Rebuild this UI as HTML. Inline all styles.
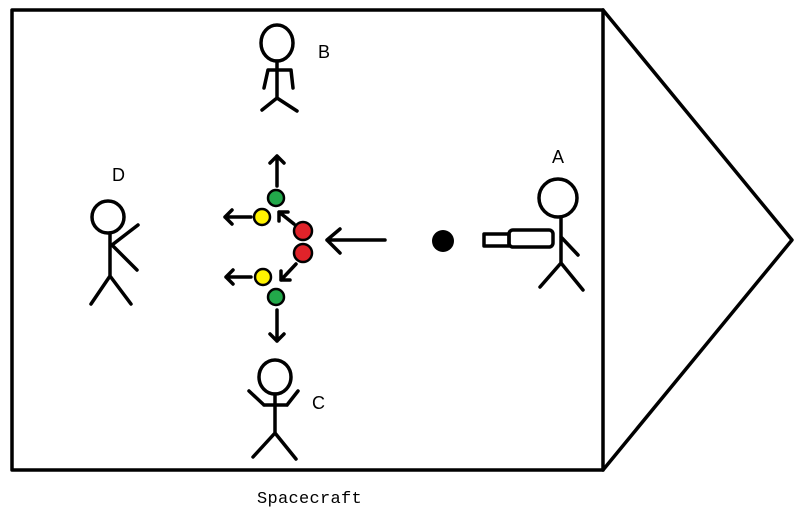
<!DOCTYPE html>
<html><head><style>body{margin:0;background:#fff}svg{display:block}</style></head><body>
<svg width="800" height="520" viewBox="0 0 800 520" xmlns="http://www.w3.org/2000/svg">
<g fill="none" stroke="#000" stroke-width="3.5" stroke-linecap="round" stroke-linejoin="round">
<rect x="12" y="10" width="591" height="460"/>
<polyline points="603,10 792,240 603,470"/>
<!-- B -->
<ellipse cx="277" cy="43" rx="16" ry="18"/>
<path d="M277 61V98M268 70H291M268 70L264 88M291 70L293 88M277 98L262 110M277 98L297 111"/>
<!-- C -->
<ellipse cx="275" cy="377" rx="16" ry="17"/>
<path d="M275 394V433M264 405H287M264 405L249 391M287 405L298 391M275 433L253 457M275 433L296 459"/>
<!-- D -->
<ellipse cx="108" cy="217" rx="16" ry="16"/>
<path d="M110 233V276M112 245L138 225M112 245L137 270M110 276L91 304M110 276L131 304"/>
<!-- A -->
<ellipse cx="558" cy="198" rx="19" ry="19"/>
<path d="M561 217V263M561 237L578 255M561 263L540 287M561 263L583 290"/>
<rect x="509" y="230" width="44" height="17" rx="4"/>
<rect x="484" y="234" width="25" height="12"/>
<!-- arrows -->
<path d="M385 240H327M340 229L327 240L340 253"/>
<path d="M277 186V156M270 163L277 156L284 163"/>
<path d="M251 217H225M232 210L225 217L232 224"/>
<path d="M294 224L279 212M279 221L279 212L288 212"/>
<path d="M251 277H226M233 270L226 277L233 284"/>
<path d="M296 264L281 280M281 271L281 280L290 280"/>
<path d="M277 310V341M270 334L277 341L284 334"/>
</g>
<circle cx="443" cy="241" r="11" fill="#000"/>
<g stroke="#000" stroke-width="2.5">
<circle cx="303" cy="231" r="9" fill="#e0232a"/>
<circle cx="303" cy="253" r="9" fill="#e0232a"/>
<circle cx="276" cy="198" r="8" fill="#22a84a"/>
<circle cx="276" cy="297" r="8" fill="#22a84a"/>
<circle cx="262" cy="217" r="8" fill="#fff200"/>
<circle cx="263" cy="277" r="8" fill="#fff200"/>
</g>
<g font-family="Liberation Sans, sans-serif" font-size="18" fill="#000">
<text x="318" y="58">B</text>
<text x="312" y="409">C</text>
<text x="112" y="181">D</text>
<text x="552" y="163">A</text>
</g>
<text x="257" y="503" font-family="Liberation Mono, monospace" font-size="17" letter-spacing="0.3">Spacecraft</text>
</svg>
</body></html>
